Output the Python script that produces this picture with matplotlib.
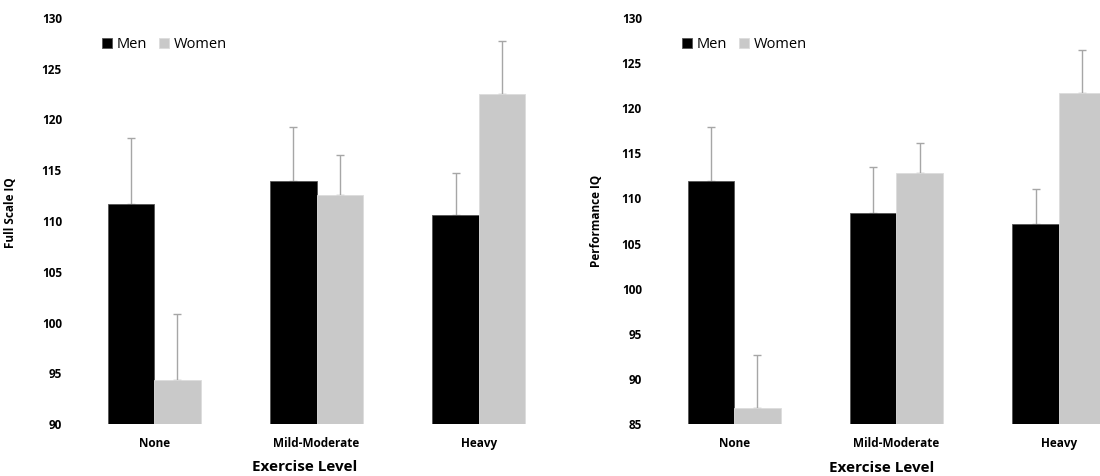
import numpy as np
import matplotlib
matplotlib.use("Agg")
import matplotlib.pyplot as plt

# ===data===
levels = ["None", "Mild-Moderate", "Heavy"]
fsiq_men = [111.7, 113.9, 110.6]
fsiq_men_err = [6.5, 5.4, 4.1]
fsiq_women = [94.3, 112.6, 122.5]
fsiq_women_err = [6.5, 3.9, 5.2]
piq_men = [111.9, 108.4, 107.2]
piq_men_err = [6.0, 5.1, 3.8]
piq_women = [86.8, 112.8, 121.7]
piq_women_err = [5.8, 3.4, 4.7]

plt.rcParams['font.family'] = ['Open Sans', 'DejaVu Sans']

men_col = "#000000"
women_col = "#c9c9c9"
err_col = "#a6a6a6"
w = 0.286


def panel(ax, men, men_err, women, women_err, ylab, ylo, lx, ly):
    x = np.arange(len(levels))
    ax.bar(x - w / 2, men, w, color=men_col, edgecolor="#555555",
           linewidth=0.6, label="Men", zorder=2)
    ax.bar(x + w / 2, women, w, color=women_col, edgecolor="#dddddd",
           linewidth=0.6, label="Women", zorder=2)
    ax.errorbar(x - w / 2, men, yerr=[np.zeros(3), men_err], fmt="none",
                ecolor=err_col, elinewidth=1, capsize=3, capthick=1, zorder=1)
    ax.errorbar(x + w / 2, women, yerr=[np.zeros(3), women_err], fmt="none",
                ecolor=err_col, elinewidth=1, capsize=3, capthick=1, zorder=1)
    ax.set_xlim(-0.5, 2.5)
    ax.set_ylim(ylo, 130)
    ax.set_yticks(np.arange(ylo, 131, 5))
    ax.set_xticks(x)
    ax.set_xticklabels(levels, fontweight="bold", fontsize=8.5)
    for t in ax.get_yticklabels():
        t.set_fontweight("bold")
        t.set_fontsize(8.5)
    ax.tick_params(axis="y", length=0, pad=8)
    ax.tick_params(axis="x", length=0, pad=9)
    for s in ax.spines.values():
        s.set_visible(False)
    ax.set_ylabel(ylab, fontweight="bold", fontsize=8.5)
    ax.set_xlabel("Exercise Level", fontweight="bold", fontsize=11)
    ax.legend(loc="center left", bbox_to_anchor=(lx, ly), ncol=2, frameon=False,
              handlelength=0.7, handleheight=0.7, handletextpad=0.3,
              columnspacing=0.8, borderpad=0, fontsize=10.5)


fig = plt.figure(figsize=(11, 4.76), dpi=100)
ax1 = fig.add_axes([0.0664, 0.1092, 0.4427, 0.853])
ax2 = fig.add_axes([0.5936, 0.1092, 0.4427, 0.853])

panel(ax1, fsiq_men, fsiq_men_err, fsiq_women, fsiq_women_err, "Full Scale IQ", 90, 0.045, 0.935)
panel(ax2, piq_men, piq_men_err, piq_women, piq_women_err, "Performance IQ", 85, 0.045, 0.935)

ax1.yaxis.set_label_coords(-0.115, 0.52)
ax2.yaxis.set_label_coords(-0.103, 0.5)
ax1.xaxis.set_label_coords(0.475, -0.088)
ax2.xaxis.set_label_coords(0.47, -0.09)

fig.savefig("out.png", dpi=100)
